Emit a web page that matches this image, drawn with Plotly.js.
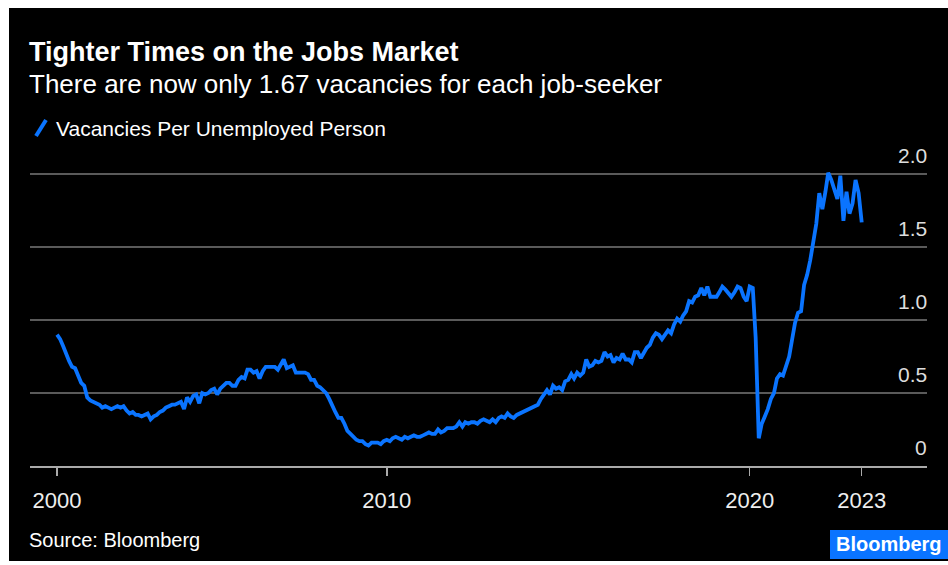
<!DOCTYPE html>
<html>
<head>
<meta charset="utf-8">
<script src="https://cdn.plot.ly/plotly-3.0.1.min.js"></script>
<style>
  html, body { margin: 0; padding: 0; background: #ffffff; width: 948px; height: 565px; overflow: hidden; }
  #frame { position: absolute; left: 9px; top: 8px; width: 939px; height: 553px; background: #000; }
  #chart { width: 939px; height: 553px; }
</style>
</head>
<body>
<div id="frame"><div id="chart"></div></div>
<script>
// Vacancies per unemployed person, monthly (first value = Dec 2000)
const v2000 = [0.90];
const v2001 = [0.87, 0.82, 0.77, 0.72, 0.68, 0.67, 0.62, 0.57, 0.55, 0.47, 0.45, 0.44];
const v2002 = [0.43, 0.42, 0.40, 0.41, 0.40, 0.39, 0.40, 0.41, 0.40, 0.41, 0.38, 0.36];
const v2003 = [0.37, 0.35, 0.35, 0.34, 0.35, 0.36, 0.32, 0.34, 0.35, 0.37, 0.38, 0.40];
const v2004 = [0.41, 0.42, 0.42, 0.43, 0.44, 0.39, 0.47, 0.44, 0.48, 0.49, 0.43, 0.50];
const v2005 = [0.49, 0.50, 0.52, 0.53, 0.49, 0.53, 0.55, 0.57, 0.57, 0.55, 0.55, 0.59];
const v2006 = [0.61, 0.60, 0.66, 0.66, 0.64, 0.65, 0.60, 0.65, 0.68, 0.68, 0.68, 0.68];
const v2007 = [0.66, 0.70, 0.73, 0.67, 0.68, 0.69, 0.64, 0.64, 0.64, 0.64, 0.63, 0.59];
const v2008 = [0.59, 0.55, 0.54, 0.52, 0.50, 0.46, 0.41, 0.37, 0.33, 0.33, 0.29, 0.24];
const v2009 = [0.22, 0.20, 0.18, 0.17, 0.17, 0.15, 0.14, 0.16, 0.16, 0.16, 0.15, 0.17];
const v2010 = [0.18, 0.17, 0.19, 0.20, 0.19, 0.18, 0.20, 0.19, 0.20, 0.21, 0.20, 0.20];
const v2011 = [0.21, 0.22, 0.23, 0.22, 0.22, 0.25, 0.23, 0.24, 0.26, 0.26, 0.26, 0.27];
const v2012 = [0.30, 0.27, 0.30, 0.29, 0.30, 0.30, 0.29, 0.31, 0.32, 0.31, 0.30, 0.32];
const v2013 = [0.30, 0.33, 0.34, 0.33, 0.36, 0.34, 0.33, 0.35, 0.36, 0.37, 0.38, 0.39];
const v2014 = [0.40, 0.41, 0.42, 0.46, 0.49, 0.52, 0.49, 0.55, 0.53, 0.54, 0.52, 0.58];
const v2015 = [0.59, 0.63, 0.60, 0.64, 0.62, 0.64, 0.73, 0.68, 0.69, 0.72, 0.71, 0.72];
const v2016 = [0.78, 0.75, 0.76, 0.71, 0.74, 0.73, 0.77, 0.73, 0.73, 0.71, 0.78, 0.78];
const v2017 = [0.74, 0.78, 0.81, 0.83, 0.88, 0.91, 0.90, 0.87, 0.90, 0.93, 0.91, 0.97];
const v2018 = [1.01, 0.99, 1.03, 1.06, 1.13, 1.12, 1.16, 1.17, 1.22, 1.17, 1.23, 1.16];
const v2019 = [1.16, 1.16, 1.19, 1.23, 1.21, 1.18, 1.16, 1.19, 1.23, 1.22, 1.16, 1.13];
const v2020 = [1.23, 1.22, 0.88, 0.19, 0.29, 0.34, 0.39, 0.46, 0.50, 0.60, 0.63, 0.62];
const v2021 = [0.68, 0.75, 0.86, 0.98, 1.05, 1.06, 1.24, 1.31, 1.41, 1.53, 1.66, 1.87];
const v2022 = [1.76, 1.88, 2.01, 1.96, 1.90, 1.83, 1.99, 1.68, 1.88, 1.73, 1.80, 1.96];
const v2023 = [1.87, 1.67];

const years = [2000, 2001, 2002, 2003, 2004, 2005, 2006, 2007, 2008, 2009, 2010, 2011,
               2012, 2013, 2014, 2015, 2016, 2017, 2018, 2019, 2020, 2021, 2022, 2023];
const yearValues = [v2000, v2001, v2002, v2003, v2004, v2005, v2006, v2007, v2008, v2009, v2010, v2011,
                    v2012, v2013, v2014, v2015, v2016, v2017, v2018, v2019, v2020, v2021, v2022, v2023];
const firstMonth = 12; // series begins in December 2000

const xTickVals = ['2000-12-01', '2010-01-01', '2020-01-01', '2023-02-01'];
const xTickText = ['2000', '2010', '2020', '2023'];
const yTickVals = [0, 0.5, 1, 1.5, 2];
const yTickText = ['0', '0.5', '1.0', '1.5', '2.0'];

const seriesName = 'Vacancies Per Unemployed Person';
const titleText = 'Tighter Times on the Jobs Market';
const subtitleText = 'There are now only 1.67 vacancies for each job-seeker';
const sourceText = 'Source: Bloomberg';

// build dates
const dates = [];
const values = [];
years.forEach((yr, i) => {
  const startM = i === 0 ? firstMonth : 1;
  yearValues[i].forEach((v, j) => {
    const m = startM + j;
    dates.push(yr + '-' + String(m).padStart(2, '0') + '-01');
    values.push(v);
  });
});

const FONT = 'Liberation Sans, Arial, sans-serif';
const BLUE = '#0a74ff';

// plot-area geometry helpers (graph px -> paper)
const W = 939, H = 553, ML = 21, MR = 21, MT = 137, MB = 95;
const PW = W - ML - MR, PH = H - MT - MB;
const px = gx => (gx - ML) / PW;
const py = gy => (H - MB - gy) / PH;

const trace = {
  x: dates, y: values, type: 'scatter', mode: 'lines', name: seriesName,
  line: { color: BLUE, width: 3.8 }, hoverinfo: 'skip', showlegend: false
};

// y-axis labels sit above their gridlines, right-aligned inside the plot
const yLabelAnn = yTickVals.map((v, i) => ({
  text: yTickText[i], xref: 'paper', yref: 'y', x: 1, y: v,
  xanchor: 'right', yanchor: 'middle', yshift: 19, xshift: 2, showarrow: false,
  font: { family: FONT, size: 21, color: '#ddd' }
}));

const layout = {
  width: W, height: H,
  paper_bgcolor: '#000', plot_bgcolor: '#000',
  margin: { l: ML, r: MR, t: MT, b: MB, pad: 0 },
  font: { family: FONT, color: '#fff' },
  showlegend: false,
  xaxis: {
    type: 'date', range: ['2000-03-04', '2024-11-19'],
    tickmode: 'array', tickvals: xTickVals, ticktext: xTickText,
    ticks: 'outside', ticklen: 8, tickwidth: 1.5, tickcolor: '#aaa',
    showline: true, linecolor: '#aaa', linewidth: 1.5,
    showgrid: false, zeroline: false,
    tickfont: { family: FONT, size: 22, color: '#eee' },
    ticklabelstandoff: 6, fixedrange: true
  },
  yaxis: {
    range: [0, 2.2], side: 'right',
    tickmode: 'array', tickvals: yTickVals, ticktext: yTickText,
    ticks: '', showline: false, zeroline: false, showticklabels: false,
    showgrid: true, gridcolor: '#5a5a5a', gridwidth: 1.5,
    fixedrange: true
  },
  shapes: [
    { type: 'line', xref: 'paper', yref: 'paper',
      x0: px(27), y0: py(128), x1: px(37), y1: py(112),
      line: { color: BLUE, width: 4 } },
    { type: 'rect', xref: 'paper', yref: 'paper',
      x0: px(821), x1: px(940), y0: py(551), y1: py(522),
      fillcolor: BLUE, line: { width: 0 } }
  ],
  annotations: [
    { text: '<b>' + titleText + '</b>', xref: 'paper', yref: 'paper', x: px(18), y: py(44),
      xanchor: 'left', yanchor: 'middle', showarrow: false,
      font: { family: FONT, size: 27, color: '#fff' } },
    { text: subtitleText, xref: 'paper', yref: 'paper', x: px(18), y: py(76),
      xanchor: 'left', yanchor: 'middle', showarrow: false,
      font: { family: FONT, size: 26, color: '#fff' } },
    { text: seriesName, xref: 'paper', yref: 'paper', x: px(45), y: py(120),
      xanchor: 'left', yanchor: 'middle', showarrow: false,
      font: { family: FONT, size: 21, color: '#fff' } },
    { text: sourceText, xref: 'paper', yref: 'paper', x: px(18), y: py(532),
      xanchor: 'left', yanchor: 'middle', showarrow: false,
      font: { family: FONT, size: 20, color: '#fff' } },
    { text: '<b>Bloomberg</b>', xref: 'paper', yref: 'paper', x: px(880), y: py(536),
      xanchor: 'center', yanchor: 'middle', showarrow: false,
      font: { family: FONT, size: 20, color: '#fff' } }
  ].concat(yLabelAnn)
};

Plotly.newPlot('chart', [trace], layout, { displayModeBar: false, staticPlot: true });
</script>
</body>
</html>
